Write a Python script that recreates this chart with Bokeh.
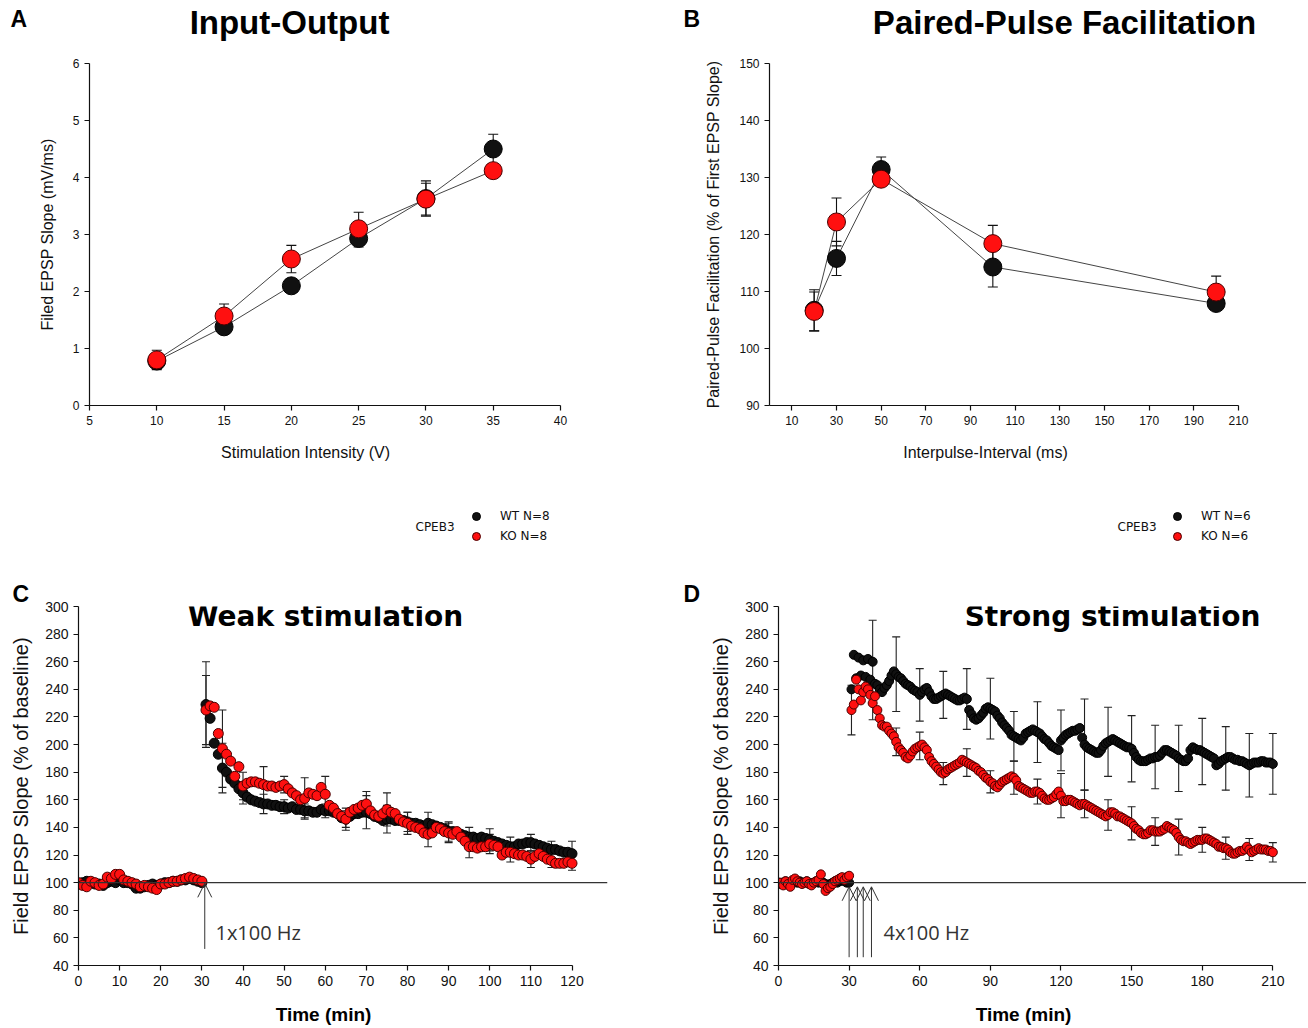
from bokeh.plotting import figure
from bokeh.models import (ColumnDataSource, Range1d, FixedTicker, Label, Span, Whisker,
                          TeeHead, Arrow, OpenHead, Legend, LegendItem)
from bokeh.core.properties import value
from bokeh.layouts import column, row
from bokeh.embed import file_html
from bokeh.resources import INLINE

# ---------------- data ----------------
# Panel A: input-output
io_x = [10, 15, 20, 25, 30, 35]
io_wt = [0.78, 1.38, 2.10, 2.93, 3.63, 4.50]
io_wt_sem = [0.12, 0.10, 0.10, 0.15, 0.31, 0.26]
io_ko = [0.80, 1.57, 2.57, 3.10, 3.62, 4.12]
io_ko_sem = [0.17, 0.21, 0.24, 0.29, 0.28, 0.12]
io_xticks = [5, 10, 15, 20, 25, 30, 35, 40]
io_yticks = [0, 1, 2, 3, 4, 5, 6]

# Panel B: paired-pulse facilitation
ppf_x = [20, 30, 50, 100, 200]
ppf_wt = [106.7, 115.8, 131.4, 114.3, 107.9]
ppf_wt_sem = [3.6, 3.0, 2.2, 3.5, 1.0]
ppf_ko = [106.5, 122.2, 129.7, 118.4, 109.9]
ppf_ko_sem = [3.4, 4.2, 1.0, 3.2, 2.8]
ppf_xticks = [10, 30, 50, 70, 90, 110, 130, 150, 170, 190, 210]
ppf_yticks = [90, 100, 110, 120, 130, 140, 150]

# Panel C: weak stimulation (1 min samples, 0..120 min)
weak_wt = [99, 100, 101, 100, 99, 99, 98, 100, 101, 100, 102, 100, 100, 99, 96, 96, 97, 98, 99, 98,
           99, 100, 100, 101, 101, 102, 102, 103, 102, 101, 100,
           229, 219, 201, 193, 183, 180, 175, 172, 168, 165,
           162, 160, 159, 158, 157, 157, 156, 156, 155, 155,
           154, 155, 153, 153, 152, 152, 151, 151, 153, 152,
           152, 151, 150, 147, 146, 148, 150, 150, 151, 151,
           150, 148, 147, 145, 146, 146, 145, 145, 145, 144,
           143, 143, 142, 141, 143, 142, 141, 140, 139, 137,
           137, 136, 135, 134, 133, 133, 132, 133, 132, 131,
           130, 129, 128, 127, 126, 126, 128, 128, 129, 129,
           128, 127, 126, 125, 124, 124, 123, 122, 122, 121]
weak_ko = [100, 98, 97, 101, 100, 98, 99, 104, 103, 106, 106, 102, 101, 100, 99, 97, 98, 97, 96, 95,
           99, 99, 100, 101, 101, 102, 103, 104, 103, 102, 101,
           225, 228, 227, 208, 197, 193, 188, 177, 184, 170,
           172, 173, 173, 172, 171, 170, 170, 169, 170, 171,
           168, 165, 163, 160, 161, 165, 164, 163, 169, 164,
           156, 154, 150, 148, 146, 151, 153, 154, 156, 157,
           152, 149, 148, 150, 153, 151, 150, 146, 144, 143,
           141, 140, 139, 136, 135, 136, 140, 139, 137, 136,
           135, 137, 133, 130, 126, 126, 125, 126, 126, 128,
           127, 126, 120, 122, 122, 121, 120, 120, 119, 117,
           119, 121, 119, 117, 116, 114, 114, 114, 115, 114]
weak_time = list(range(len(weak_wt)))
weak_err_t = [31, 35, 40, 45, 50, 55, 60, 65, 70, 75, 80, 85, 90, 95, 100, 105, 110, 115, 120]
weak_wt_sem = [31, 18, 8, 7, 5, 5, 5, 6, 12, 10, 7, 8, 7, 7, 8, 7, 6, 6, 9]
weak_ko_sem = [25, 28, 10, 13, 6, 15, 13, 8, 9, 12, 8, 9, 7, 8, 7, 7, 6, 5, 5]
weak_tetanus = [30.7]
weak_xticks = list(range(0, 121, 10))
ltp_yticks = list(range(40, 301, 20))

# Panel D: strong stimulation (1 min samples, 0..210 min)
strong_wt = [100, 99, 100, 101, 100, 99, 100, 101, 100, 101, 100, 100, 101, 100, 99, 100, 101, 100, 101, 100,
             99, 98, 99, 100, 101, 100, 101, 102, 101, 100, 100,
             240, 265, 248, 263, 250, 261, 249, 262, 247, 260,
             244, 243, 240, 238, 241, 243, 246, 250, 253, 251,
             249, 248, 246, 244, 243, 242, 240, 239, 238, 236,
             238, 240, 241, 238, 235, 233, 233, 234, 235, 236,
             237, 236, 235, 234, 233, 232, 232, 233, 234, 233,
             225, 222, 219, 218, 219, 221, 223, 226, 227, 226,
             225, 224, 221, 219, 216, 214, 212, 210, 207, 206,
             205, 204, 203, 205, 208, 209, 210, 211, 210, 209,
             208, 206, 204, 203, 201, 199, 198, 197, 196, 203,
             205, 207, 208, 209, 210, 210, 211, 212, 205, 200,
             198, 197, 196, 195, 194, 194, 196, 199, 201, 202,
             203, 204, 203, 202, 201, 200, 199, 198, 198, 197,
             194, 191, 189, 188, 188, 188, 189, 190, 190, 191,
             191, 192, 194, 196, 196, 195, 194, 193, 192, 190,
             189, 188, 188, 190, 196, 198, 197, 196, 196, 195,
             194, 193, 192, 191, 190, 185, 186, 188, 189, 190,
             191, 191, 190, 189, 189, 188, 188, 187, 186, 185,
             186, 187, 187, 187, 188, 188, 187, 187, 187, 186]
strong_ko = [100, 100, 98, 101, 99, 97, 102, 103, 101, 100, 99, 100, 101, 99, 98, 100, 101, 102, 106, 99,
             94, 96, 97, 99, 101, 102, 103, 104, 102, 104, 105,
             225, 229, 247, 240, 232, 238, 242, 240, 236, 230,
             235, 225, 219, 214, 213, 213, 210, 208, 206, 202,
             198, 196, 194, 191, 190, 192, 195, 197, 198, 199,
             200, 198, 196, 191, 188, 186, 184, 182, 180, 179,
             180, 182, 183, 184, 185, 186, 187, 189, 188, 187,
             186, 185, 184, 183, 181, 180, 178, 176, 175, 173,
             172, 170, 169, 171, 173, 174, 175, 176, 177, 176,
             174, 170, 169, 168, 167, 166, 165, 165, 166, 166,
             165, 163, 161, 160, 160, 161, 162, 164, 166, 163,
             159, 159, 160, 160, 159, 158, 157, 156, 157, 157,
             156, 155, 154, 153, 152, 151, 150, 149, 148, 149,
             151, 151, 150, 148, 148, 147, 146, 145, 144, 143,
             141, 139, 138, 136, 135, 135, 136, 138, 138, 137,
             137, 137, 138, 139, 141, 140, 139, 138, 136, 133,
             131, 130, 130, 129, 128, 129, 130, 131, 131, 131,
             132, 132, 131, 130, 129, 128, 126, 126, 125, 125,
             124, 122, 121, 121, 122, 123, 123, 124, 126, 124,
             122, 123, 124, 125, 124, 124, 124, 123, 123, 122]
strong_time = list(range(len(strong_wt)))
strong_wt_err_t = [40, 50, 60, 70, 80, 90, 100, 110, 120, 130, 140, 150, 160, 170, 180, 190, 200, 210]
strong_wt_sem = [30, 27, 19, 17, 22, 22, 18, 22, 22, 33, 25, 24, 23, 24, 24, 23, 23, 22]
strong_ko_err_t = [31, 40, 50, 60, 70, 80, 90, 100, 110, 120, 130, 140, 150, 160, 170, 180, 190, 200, 210]
strong_ko_sem = [18, 12, 10, 10, 8, 10, 8, 12, 9, 16, 10, 11, 12, 10, 13, 9, 8, 8, 7]
strong_tetanus = [30, 33.5, 36, 39.5]
strong_xticks = list(range(0, 211, 30))

# ---------------- styling helpers ----------------
BLACK_FILL = "#111111"
RED_FILL = "#ff1010"
RED_EDGE = "#4a0000"
SANS = "Liberation Sans"
TOTAL_W = 1306


def make_fig(w, h, left, right, top, bottom, xr, yr, tick_size):
    p = figure(width=w, height=h, x_range=Range1d(*xr), y_range=Range1d(*yr),
               output_backend="svg", toolbar_location=None,
               min_border_left=left, min_border_right=right,
               min_border_top=top, min_border_bottom=bottom)
    p.grid.visible = False
    p.outline_line_color = None
    p.background_fill_color = "white"
    p.border_fill_color = "white"
    for ax in (p.xaxis[0], p.yaxis[0]):
        ax.axis_line_color = "#111111"
        ax.axis_line_width = 1.2
        ax.major_tick_line_color = "#111111"
        ax.major_tick_line_width = 1.2
        ax.major_tick_in = 0
        ax.major_tick_out = 5
        ax.minor_tick_line_color = None
        ax.major_label_text_font = SANS
        ax.major_label_text_font_size = tick_size
        ax.major_label_text_color = "#111111"
        ax.major_label_standoff = 5
        ax.axis_label_text_font = SANS
        ax.axis_label_text_font_style = "normal"
        ax.axis_label_text_color = "#111111"
    return p


def text_fig(h, y_top):
    """A blank strip (no axes) whose frame coordinates are page pixels."""
    p = figure(width=TOTAL_W, height=h, x_range=Range1d(0, TOTAL_W),
               y_range=Range1d(y_top + h, y_top), output_backend="svg",
               toolbar_location=None, x_axis_type=None, y_axis_type=None,
               min_border=0)
    p.grid.visible = False
    p.outline_line_color = None
    p.background_fill_color = "white"
    p.border_fill_color = "white"
    return p


def add_label(p, x, y, text, size, bold=False, align="left", font=SANS, color="#000000"):
    p.add_layout(Label(x=x, y=y, text=text, text_font=font, text_font_size=size,
                       text_font_style="bold" if bold else "normal",
                       text_align=align, text_baseline="middle", text_color=color))


def add_whisker(p, xs, means, sems, head, color="#111111"):
    src = ColumnDataSource(dict(x=xs, lo=[m - s for m, s in zip(means, sems)],
                                hi=[m + s for m, s in zip(means, sems)]))
    p.add_layout(Whisker(source=src, base="x", lower="lo", upper="hi", dimension="height",
                         line_color=color, line_width=1.1,
                         upper_head=TeeHead(size=head, line_color=color, line_width=1.1),
                         lower_head=TeeHead(size=head, line_color=color, line_width=1.1)))


def add_legend(p, xs, wt, ko, n_wt, n_ko, loc):
    # legend keys: hidden copies of the series, styled like the plotted markers
    k_wt = p.scatter(xs, wt, size=10, fill_color=BLACK_FILL, line_color="#000000", visible=False)
    k_ko = p.scatter(xs, ko, size=10, fill_color=RED_FILL, line_color=RED_EDGE, visible=False)
    leg = Legend(items=[LegendItem(label=value(n_wt), renderers=[k_wt]),
                        LegendItem(label=value(n_ko), renderers=[k_ko])],
                 location=loc, orientation="vertical", glyph_width=22, glyph_height=20,
                 label_height=20, spacing=0, padding=0, margin=0, label_standoff=13,
                 border_line_color=None, background_fill_alpha=0,
                 label_text_font="DejaVu Sans", label_text_font_size="12px",
                 label_text_color="#111111")
    p.add_layout(leg)


# ---------------- header strip (letters A/B + titles) ----------------
hdr = text_fig(55, 0)
add_label(hdr, 10, 18.5, "A", "23px", bold=True)
add_label(hdr, 289, 21.5, "Input-Output", "33px", bold=True, align="center")
add_label(hdr, 683, 18.5, "B", "23px", bold=True)
add_label(hdr, 1064, 21.5, "Paired-Pulse Facilitation", "33px", bold=True, align="center")

# ---------------- Panel A ----------------
pA = make_fig(654, 380, 89, 94, 8, 30, (5, 40), (0, 6), "12px")
pA.xaxis.ticker = FixedTicker(ticks=io_xticks)
pA.yaxis.ticker = FixedTicker(ticks=io_yticks)
pA.yaxis.axis_label = "Filed EPSP Slope (mV/ms)"
pA.yaxis.axis_label_text_font_size = "16px"
pA.yaxis.axis_label_standoff = 14
add_whisker(pA, io_x, io_wt, io_wt_sem, 10)
add_whisker(pA, io_x, io_ko, io_ko_sem, 10)
pA.line(io_x, io_wt, line_color="#444444", line_width=1)
pA.line(io_x, io_ko, line_color="#444444", line_width=1)
pA.scatter(io_x, io_wt, size=18, fill_color=BLACK_FILL, line_color="#000000")
pA.scatter(io_x, io_ko, size=18, fill_color=RED_FILL, line_color=RED_EDGE)

# ---------------- Panel B ----------------
pB = make_fig(652, 380, 115, 68, 8, 30, (0, 210), (90, 150), "12px")
pB.xaxis.ticker = FixedTicker(ticks=ppf_xticks)
pB.yaxis.ticker = FixedTicker(ticks=ppf_yticks)
pB.yaxis.axis_label = "Paired-Pulse Facilitation (% of First EPSP Slope)"
pB.yaxis.axis_label_text_font_size = "16px"
pB.yaxis.axis_label_standoff = 14
add_whisker(pB, ppf_x, ppf_wt, ppf_wt_sem, 10)
add_whisker(pB, ppf_x, ppf_ko, ppf_ko_sem, 10)
pB.line(ppf_x, ppf_wt, line_color="#444444", line_width=1)
pB.line(ppf_x, ppf_ko, line_color="#444444", line_width=1)
pB.scatter(ppf_x, ppf_wt, size=18, fill_color=BLACK_FILL, line_color="#000000")
pB.scatter(ppf_x, ppf_ko, size=18, fill_color=RED_FILL, line_color=RED_EDGE)

# ---------------- middle strip (x titles, legends) ----------------
mid = text_fig(143, 435)
add_label(mid, 305, 452, "Stimulation Intensity (V)", "16px", align="center", color="#111111")
add_label(mid, 985, 452, "Interpulse-Interval (ms)", "16px", align="center", color="#111111")
add_label(mid, 415, 526, "CPEB3", "12px", font="DejaVu Sans", color="#111111")
add_label(mid, 1117, 526, "CPEB3", "12px", font="DejaVu Sans", color="#111111")
add_legend(mid, io_x, io_wt, io_ko, "WT N=8", "KO N=8", (465, 32))
add_legend(mid, ppf_x, ppf_wt, ppf_ko, "WT N=6", "KO N=6", (1166, 32))


# ---------------- Panels C / D ----------------
def ltp_panel(w, left, right, xend, bound, xticks, times, wt, ko,
              wt_err_t, wt_sem, ko_err_t, ko_sem, size, letter, letter_offset):
    p = make_fig(w, 415, left, right, 28, 28, (0, xend), (40, 300), "14px")
    p.title.text = letter
    p.title.align = "left"
    p.title.offset = letter_offset
    p.title.standoff = 0
    p.title.text_font = SANS
    p.title.text_font_size = "23px"
    p.title.text_font_style = "bold"
    p.title.text_color = "#000000"
    p.xaxis.ticker = FixedTicker(ticks=xticks)
    p.xaxis.bounds = (0, bound)
    p.yaxis.ticker = FixedTicker(ticks=ltp_yticks)
    p.yaxis.axis_label = "Field EPSP Slope (% of baseline)"
    p.yaxis.axis_label_text_font_size = "20px"
    p.yaxis.axis_label_standoff = 10
    p.add_layout(Span(location=100, dimension="width", line_color="#333333", line_width=1.3))
    wt_lookup = dict(zip(times, wt))
    ko_lookup = dict(zip(times, ko))
    add_whisker(p, wt_err_t, [wt_lookup[t] for t in wt_err_t], wt_sem, 8, "#222222")
    add_whisker(p, ko_err_t, [ko_lookup[t] for t in ko_err_t], ko_sem, 8, "#222222")
    p.scatter(times, wt, size=size, fill_color=BLACK_FILL, line_color="#000000", line_width=1)
    p.scatter(times, ko, size=size, fill_color=RED_FILL, line_color=RED_EDGE, line_width=1)
    return p


pC = ltp_panel(654, 78, 47, 128.63, 120, weak_xticks, weak_time, weak_wt, weak_ko,
               weak_err_t, weak_wt_sem, weak_err_t, weak_ko_sem, 10, "C", -66)
tet_c = ColumnDataSource(dict(x=weak_tetanus, y0=[52] * len(weak_tetanus), y1=[99.5] * len(weak_tetanus)))
pC.add_layout(Arrow(source=tet_c, x_start="x", y_start="y0", x_end="x", y_end="y1",
                    line_color="#333333", line_width=1,
                    end=OpenHead(size=14, line_color="#333333", line_width=1)))
add_label(pC, 60.06, 292.4, "Weak stimulation", "28px", bold=True, align="center", font="DejaVu Sans")
add_label(pC, 33.3, 63.9, "1x100 Hz", "20px", font="Open Sans", color="#333333")

pD = ltp_panel(652, 124, 0, 224.3, 210, strong_xticks, strong_time, strong_wt, strong_ko,
               strong_wt_err_t, strong_wt_sem, strong_ko_err_t, strong_ko_sem, 9, "D", -95)
tet_d = ColumnDataSource(dict(x=strong_tetanus, y0=[46] * len(strong_tetanus), y1=[97] * len(strong_tetanus)))
pD.add_layout(Arrow(source=tet_d, x_start="x", y_start="y0", x_end="x", y_end="y1",
                    line_color="#333333", line_width=1,
                    end=OpenHead(size=14, line_color="#333333", line_width=1)))
add_label(pD, 141.9, 292.4, "Strong stimulation", "28px", bold=True, align="center", font="DejaVu Sans")
add_label(pD, 44.6, 63.9, "4x100 Hz", "20px", font="Open Sans", color="#333333")

# ---------------- bottom strip (time axis titles) ----------------
bot = text_fig(33, 993)
add_label(bot, 323, 1014, "Time (min)", "19px", bold=True, align="center")
add_label(bot, 1023, 1014, "Time (min)", "19px", bold=True, align="center")

layout = column(hdr, row(pA, pB), mid, row(pC, pD), bot)
open("out.html", "w").write(file_html(layout, INLINE))
